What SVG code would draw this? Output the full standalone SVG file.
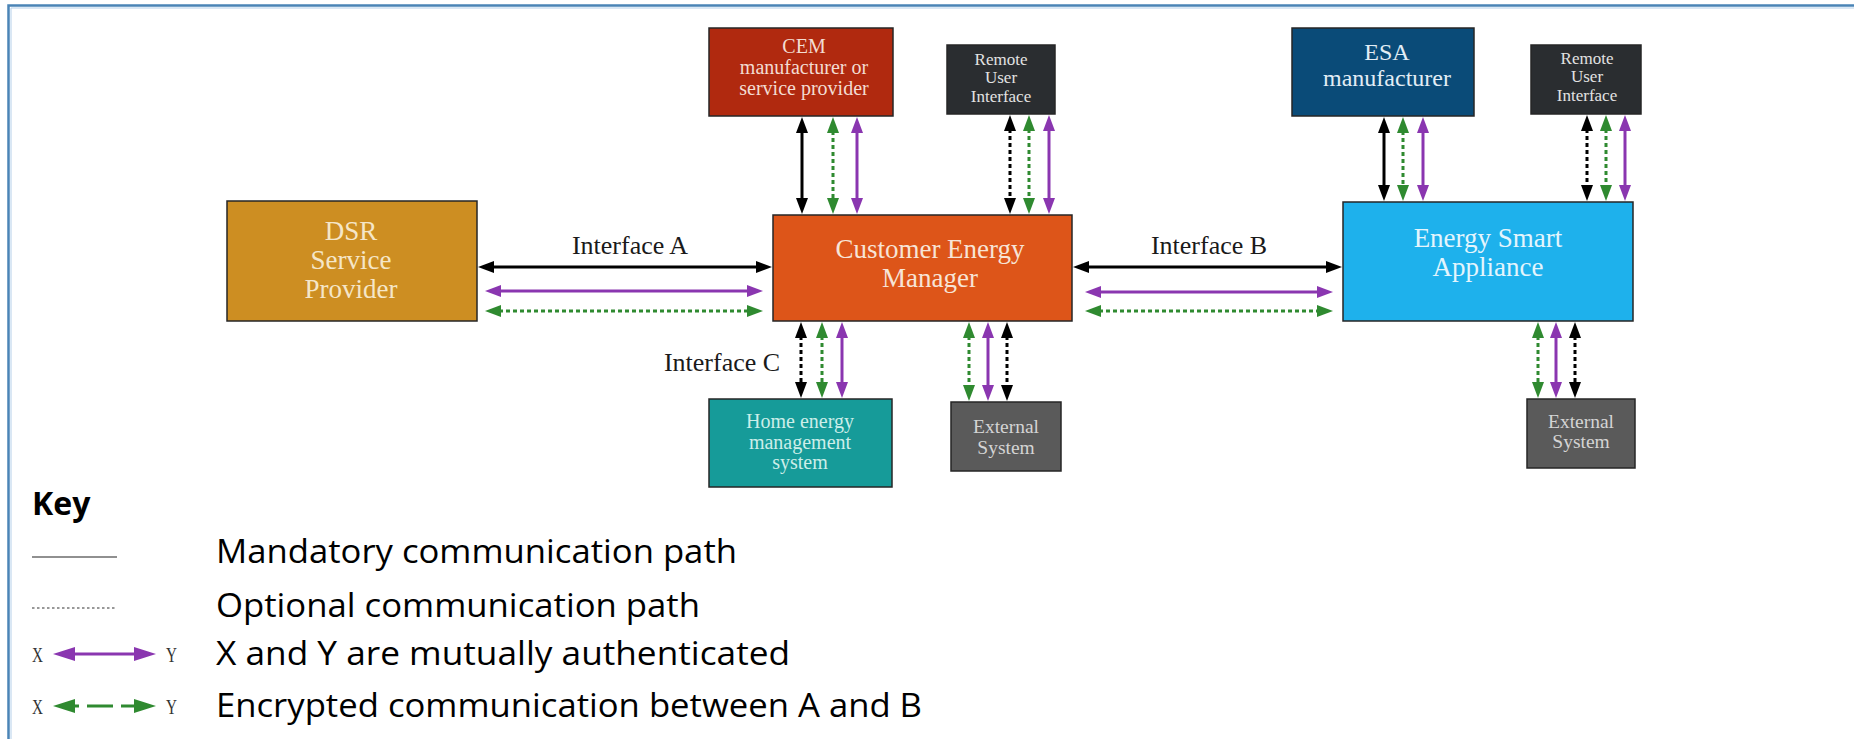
<svg xmlns="http://www.w3.org/2000/svg" width="1854" height="739" viewBox="0 0 1854 739">
<style>
.box{stroke:#262626;stroke-width:1.5}
.nt{font-family:"Liberation Serif","Times New Roman",serif;text-anchor:middle}
.lbl{font-family:"Liberation Serif","Times New Roman",serif;font-size:26px;fill:#1a1a1a;text-anchor:middle}
.k{stroke:#000;stroke-width:3;fill:none}
.p{stroke:#8a36b0;stroke-width:3;fill:none}
.g{stroke:#2f8a30;stroke-width:3;fill:none}
.dot{stroke-dasharray:4 3}
.key{font-family:"Open Sans","Liberation Sans",sans-serif;font-size:32px;fill:#000}
.xy{font-family:"Liberation Serif",serif;font-size:21px;fill:#333}
</style>
<defs>
<marker id="ak" markerUnits="userSpaceOnUse" markerWidth="18" markerHeight="12" refX="2" refY="6" orient="auto-start-reverse"><path d="M0,0 L16,6 L0,12 z" fill="#000"/></marker>
<marker id="ap" markerUnits="userSpaceOnUse" markerWidth="18" markerHeight="12" refX="2" refY="6" orient="auto-start-reverse"><path d="M0,0 L16,6 L0,12 z" fill="#8a36b0"/></marker>
<marker id="ag" markerUnits="userSpaceOnUse" markerWidth="18" markerHeight="12" refX="2" refY="6" orient="auto-start-reverse"><path d="M0,0 L16,6 L0,12 z" fill="#2f8a30"/></marker>
<marker id="lp" markerUnits="userSpaceOnUse" markerWidth="24" markerHeight="14" refX="2" refY="7" orient="auto-start-reverse"><path d="M0,0 L22,7 L0,14 z" fill="#8a36b0"/></marker>
<marker id="lg" markerUnits="userSpaceOnUse" markerWidth="24" markerHeight="14" refX="2" refY="7" orient="auto-start-reverse"><path d="M0,0 L22,7 L0,14 z" fill="#2f8a30"/></marker>
</defs>
<rect width="1854" height="739" fill="#fff"/>
<path d="M8.5,739 V5.5 H1854" fill="none" stroke="#4a84b6" stroke-width="2.5"/>
<path d="M11,739 V8 H1854" fill="none" stroke="#b5d0ea" stroke-width="1"/>

<g id="dsr"><rect class="box" x="227" y="201" width="250" height="120" fill="#cd8e22"/>
<text class="nt" font-size="27" fill="#f5e6c8"><tspan x="351" y="240">DSR</tspan><tspan x="351" y="269">Service</tspan><tspan x="351" y="298">Provider</tspan></text></g>

<g id="cem"><rect class="box" x="773" y="215" width="299" height="106" fill="#dd5519"/>
<text class="nt" font-size="27" fill="#f7e4d6"><tspan x="930" y="258">Customer Energy</tspan><tspan x="930" y="287">Manager</tspan></text></g>

<g id="esa"><rect class="box" x="1343" y="202" width="290" height="119" fill="#1eb1ec"/>
<text class="nt" font-size="27" fill="#e4f5fd"><tspan x="1488" y="247">Energy Smart</tspan><tspan x="1488" y="276">Appliance</tspan></text></g>

<g id="cem-manufacturer"><rect class="box" x="709" y="28" width="184" height="88" fill="#b0290f"/>
<text class="nt" font-size="20" fill="#f3dcd2"><tspan x="804" y="53">CEM</tspan><tspan x="804" y="74">manufacturer or</tspan><tspan x="804" y="95">service provider</tspan></text></g>

<g id="remote-ui-1"><rect class="box" x="947" y="45" width="108" height="69" fill="#2a2d30"/>
<text class="nt" font-size="17" fill="#e2e2e2"><tspan x="1001" y="65">Remote</tspan><tspan x="1001" y="83">User</tspan><tspan x="1001" y="102">Interface</tspan></text></g>

<g id="esa-manufacturer"><rect class="box" x="1292" y="28" width="182" height="88" fill="#0a4b78"/>
<text class="nt" font-size="24" fill="#e2edf5"><tspan x="1387" y="60">ESA</tspan><tspan x="1387" y="86">manufacturer</tspan></text></g>

<g id="remote-ui-2"><rect class="box" x="1531" y="45" width="110" height="69" fill="#2a2d30"/>
<text class="nt" font-size="17" fill="#e2e2e2"><tspan x="1587" y="64">Remote</tspan><tspan x="1587" y="82">User</tspan><tspan x="1587" y="101">Interface</tspan></text></g>

<g id="hems"><rect class="box" x="709" y="399" width="183" height="88" fill="#169b99"/>
<text class="nt" font-size="20" fill="#cdeee9"><tspan x="800" y="428">Home energy</tspan><tspan x="800" y="449">management</tspan><tspan x="800" y="469">system</tspan></text></g>

<g id="external-1"><rect class="box" x="951" y="402" width="110" height="69" fill="#5a5a5a"/>
<text class="nt" font-size="19.5" fill="#d4d4d4"><tspan x="1006" y="433">External</tspan><tspan x="1006" y="454">System</tspan></text></g>

<g id="external-2"><rect class="box" x="1527" y="399" width="108" height="69" fill="#5a5a5a"/>
<text class="nt" font-size="19.5" fill="#d4d4d4"><tspan x="1581" y="428">External</tspan><tspan x="1581" y="448">System</tspan></text></g>

<g id="connectors">
<line class="k" x1="492" y1="267" x2="758" y2="267" marker-start="url(#ak)" marker-end="url(#ak)"/>
<line class="p" x1="499" y1="291" x2="749" y2="291" marker-start="url(#ap)" marker-end="url(#ap)"/>
<line class="g dot" x1="499" y1="311" x2="749" y2="311" marker-start="url(#ag)" marker-end="url(#ag)"/>
<line class="k" x1="1087" y1="267" x2="1328" y2="267" marker-start="url(#ak)" marker-end="url(#ak)"/>
<line class="p" x1="1099" y1="292" x2="1319" y2="292" marker-start="url(#ap)" marker-end="url(#ap)"/>
<line class="g dot" x1="1099" y1="311" x2="1319" y2="311" marker-start="url(#ag)" marker-end="url(#ag)"/>
<line class="k" x1="802" y1="131" x2="802" y2="200" marker-start="url(#ak)" marker-end="url(#ak)"/>
<line class="g dot" x1="833" y1="131" x2="833" y2="200" marker-start="url(#ag)" marker-end="url(#ag)"/>
<line class="p" x1="857" y1="131" x2="857" y2="200" marker-start="url(#ap)" marker-end="url(#ap)"/>
<line class="k dot" x1="1010" y1="129" x2="1010" y2="200" marker-start="url(#ak)" marker-end="url(#ak)"/>
<line class="g dot" x1="1029" y1="129" x2="1029" y2="200" marker-start="url(#ag)" marker-end="url(#ag)"/>
<line class="p" x1="1049" y1="129" x2="1049" y2="200" marker-start="url(#ap)" marker-end="url(#ap)"/>
<line class="k" x1="1384" y1="131" x2="1384" y2="187" marker-start="url(#ak)" marker-end="url(#ak)"/>
<line class="g dot" x1="1403" y1="131" x2="1403" y2="187" marker-start="url(#ag)" marker-end="url(#ag)"/>
<line class="p" x1="1423" y1="131" x2="1423" y2="187" marker-start="url(#ap)" marker-end="url(#ap)"/>
<line class="k dot" x1="1587" y1="129" x2="1587" y2="187" marker-start="url(#ak)" marker-end="url(#ak)"/>
<line class="g dot" x1="1606" y1="129" x2="1606" y2="187" marker-start="url(#ag)" marker-end="url(#ag)"/>
<line class="p" x1="1625" y1="129" x2="1625" y2="187" marker-start="url(#ap)" marker-end="url(#ap)"/>
<line class="k dot" x1="801" y1="336" x2="801" y2="384" marker-start="url(#ak)" marker-end="url(#ak)"/>
<line class="g dot" x1="822" y1="336" x2="822" y2="384" marker-start="url(#ag)" marker-end="url(#ag)"/>
<line class="p" x1="842" y1="336" x2="842" y2="384" marker-start="url(#ap)" marker-end="url(#ap)"/>
<line class="g dot" x1="969" y1="336" x2="969" y2="387" marker-start="url(#ag)" marker-end="url(#ag)"/>
<line class="p" x1="988" y1="336" x2="988" y2="387" marker-start="url(#ap)" marker-end="url(#ap)"/>
<line class="k dot" x1="1007" y1="336" x2="1007" y2="387" marker-start="url(#ak)" marker-end="url(#ak)"/>
<line class="g dot" x1="1538" y1="336" x2="1538" y2="384" marker-start="url(#ag)" marker-end="url(#ag)"/>
<line class="p" x1="1556" y1="336" x2="1556" y2="384" marker-start="url(#ap)" marker-end="url(#ap)"/>
<line class="k dot" x1="1575" y1="336" x2="1575" y2="384" marker-start="url(#ak)" marker-end="url(#ak)"/>
</g>

<g id="labels">
<text class="lbl" x="630" y="254">Interface A</text>
<text class="lbl" x="1209" y="254">Interface B</text>
<text class="lbl" x="722" y="371">Interface C</text>
</g>

<g id="key">
<text class="key" x="32" y="515" font-weight="700">Key</text>
<line x1="32" y1="557" x2="117" y2="557" stroke="#222" stroke-width="1.2"/>
<text class="key" x="216" y="563" textLength="521" lengthAdjust="spacingAndGlyphs">Mandatory communication path</text>
<line x1="32" y1="608" x2="117" y2="608" stroke="#333" stroke-width="1.2" stroke-dasharray="2.5 2.5"/>
<text class="key" x="216" y="617" textLength="484" lengthAdjust="spacingAndGlyphs">Optional communication path</text>
<text class="xy" x="32" y="662" textLength="11" lengthAdjust="spacingAndGlyphs">X</text>
<line x1="73" y1="654" x2="136" y2="654" stroke="#8a36b0" stroke-width="3" marker-start="url(#lp)" marker-end="url(#lp)"/>
<text class="xy" x="166" y="662" textLength="11" lengthAdjust="spacingAndGlyphs">Y</text>
<text class="key" x="216" y="665" textLength="574" lengthAdjust="spacingAndGlyphs">X and Y are mutually authenticated</text>
<text class="xy" x="32" y="714" textLength="11" lengthAdjust="spacingAndGlyphs">X</text>
<line x1="73" y1="706" x2="136" y2="706" stroke="#2f8a30" stroke-width="3" stroke-dasharray="6 8 26 8 14" marker-start="url(#lg)" marker-end="url(#lg)"/>
<text class="xy" x="166" y="714" textLength="11" lengthAdjust="spacingAndGlyphs">Y</text>
<text class="key" x="216" y="717" textLength="706" lengthAdjust="spacingAndGlyphs">Encrypted communication between A and B</text>
</g>
</svg>
